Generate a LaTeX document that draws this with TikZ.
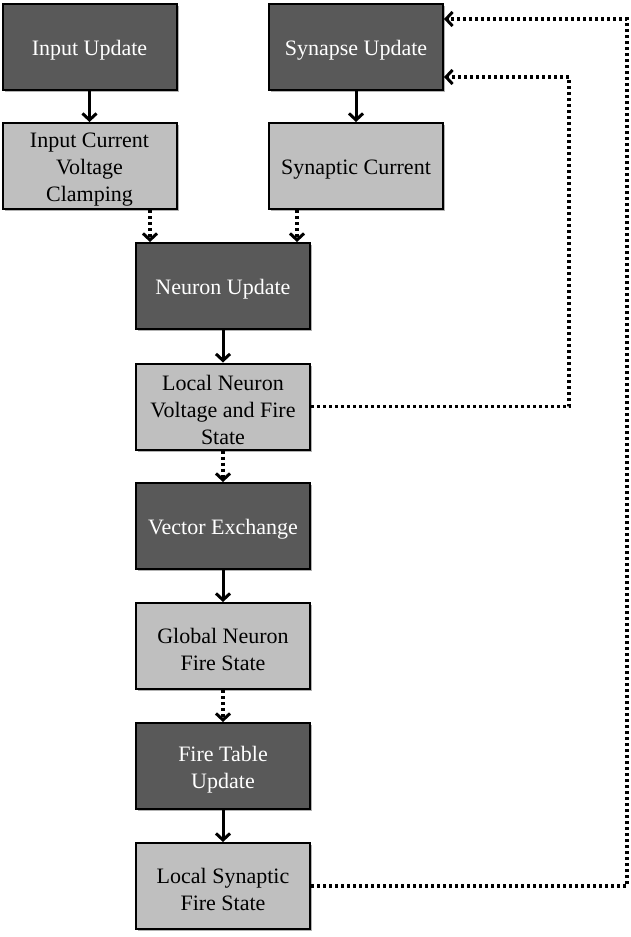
\documentclass[tikz,border=0pt]{standalone}
\usepackage{fontspec}
\setmainfont{Liberation Serif}
\usetikzlibrary{arrows.meta,shadows}
\definecolor{darkbox}{HTML}{595959}
\definecolor{lightbox}{HTML}{BFBFBF}
\begin{document}
\begin{tikzpicture}[x=1pt,y=-1pt,
  boxbase/.style={draw=black, line width=2pt, minimum width=174pt, minimum height=86pt,
    inner sep=0pt,
    drop shadow={shadow xshift=2pt, shadow yshift=-2pt, fill=black, opacity=0.3}},
  darkstep/.style={boxbase, fill=darkbox},
  lightstep/.style={boxbase, fill=lightbox},
  txtbase/.style={inner sep=0pt, align=center, font=\fontsize{22}{26.6}\selectfont},
  darktext/.style={txtbase, text=white},
  lighttext/.style={txtbase, text=black},
  tipstyle/.style={-{Straight Barb[length=6.5pt,width=14pt,line width=3pt]}},
  solidarrow/.style={tipstyle, line width=3pt},
  dotarrow/.style={tipstyle, line width=3.2pt, dash pattern=on 3pt off 3pt}
]
\useasboundingbox (0,0) rectangle (630,937);

\node[darkstep]  (in)  at (89.5,46.5) {};
\node[darkstep]  (syn) at (356,46.5) {};
\node[lightstep] (icc) at (89.5,166) {};
\node[lightstep] (sc)  at (356,166) {};
\node[darkstep]  (nu)  at (223,286) {};
\node[lightstep] (lnv) at (223,406.5) {};
\node[darkstep]  (ve)  at (223,526) {};
\node[lightstep] (gn)  at (223,646) {};
\node[darkstep]  (ft)  at (223,766) {};
\node[lightstep] (lsf) at (223,886) {};

\node[darktext]  (inT)  at ([yshift=-3.5pt]in.center)  {Input Update};
\node[darktext]  (synT) at ([yshift=-3.5pt]syn.center) {Synapse Update};
\node[lighttext] (iccT) at ([yshift=-3.5pt]icc.center) {Input Current\\Voltage\\Clamping};
\node[lighttext] (scT)  at ([yshift=-3.5pt]sc.center)  {Synaptic Current};
\node[darktext]  (nuT)  at ([yshift=-3.5pt]nu.center)  {Neuron Update};
\node[lighttext] (lnvT) at ([yshift=-3.5pt]lnv.center) {Local Neuron\\Voltage and Fire\\State};
\node[darktext]  (veT)  at ([yshift=-3.5pt]ve.center)  {Vector Exchange};
\node[lighttext] (gnT)  at ([yshift=-3.5pt]gn.center)  {Global Neuron\\Fire State};
\node[darktext]  (ftT)  at ([yshift=-3.5pt]ft.center)  {Fire Table\\Update};
\node[lighttext] (lsfT) at ([yshift=-3.5pt]lsf.center) {Local Synaptic\\Fire State};

\coordinate (c1) at (569,77);
\coordinate (c2) at (627,19);

\draw[solidarrow] (in) -- (icc);
\draw[solidarrow] (syn) -- (sc);
\draw[dotarrow] ([xshift=60.5pt]icc.south) -- ([xshift=60.5pt]icc.south |- nu.north);
\draw[dotarrow] ([xshift=-59pt]sc.south) -- ([xshift=-59pt]sc.south |- nu.north);
\draw[solidarrow] (nu) -- (lnv);
\draw[dotarrow] (lnv) -- (ve);
\draw[solidarrow] (ve) -- (gn);
\draw[dotarrow] (gn) -- (ft);
\draw[solidarrow] (ft) -- (lsf);

\draw[dotarrow] (lnv.east) -| (c1) -- ([yshift=-30.5pt]syn.east);
\draw[dotarrow] (lsf.east) -| (c2) -- ([yshift=27.5pt]syn.east);
\end{tikzpicture}
\end{document}
